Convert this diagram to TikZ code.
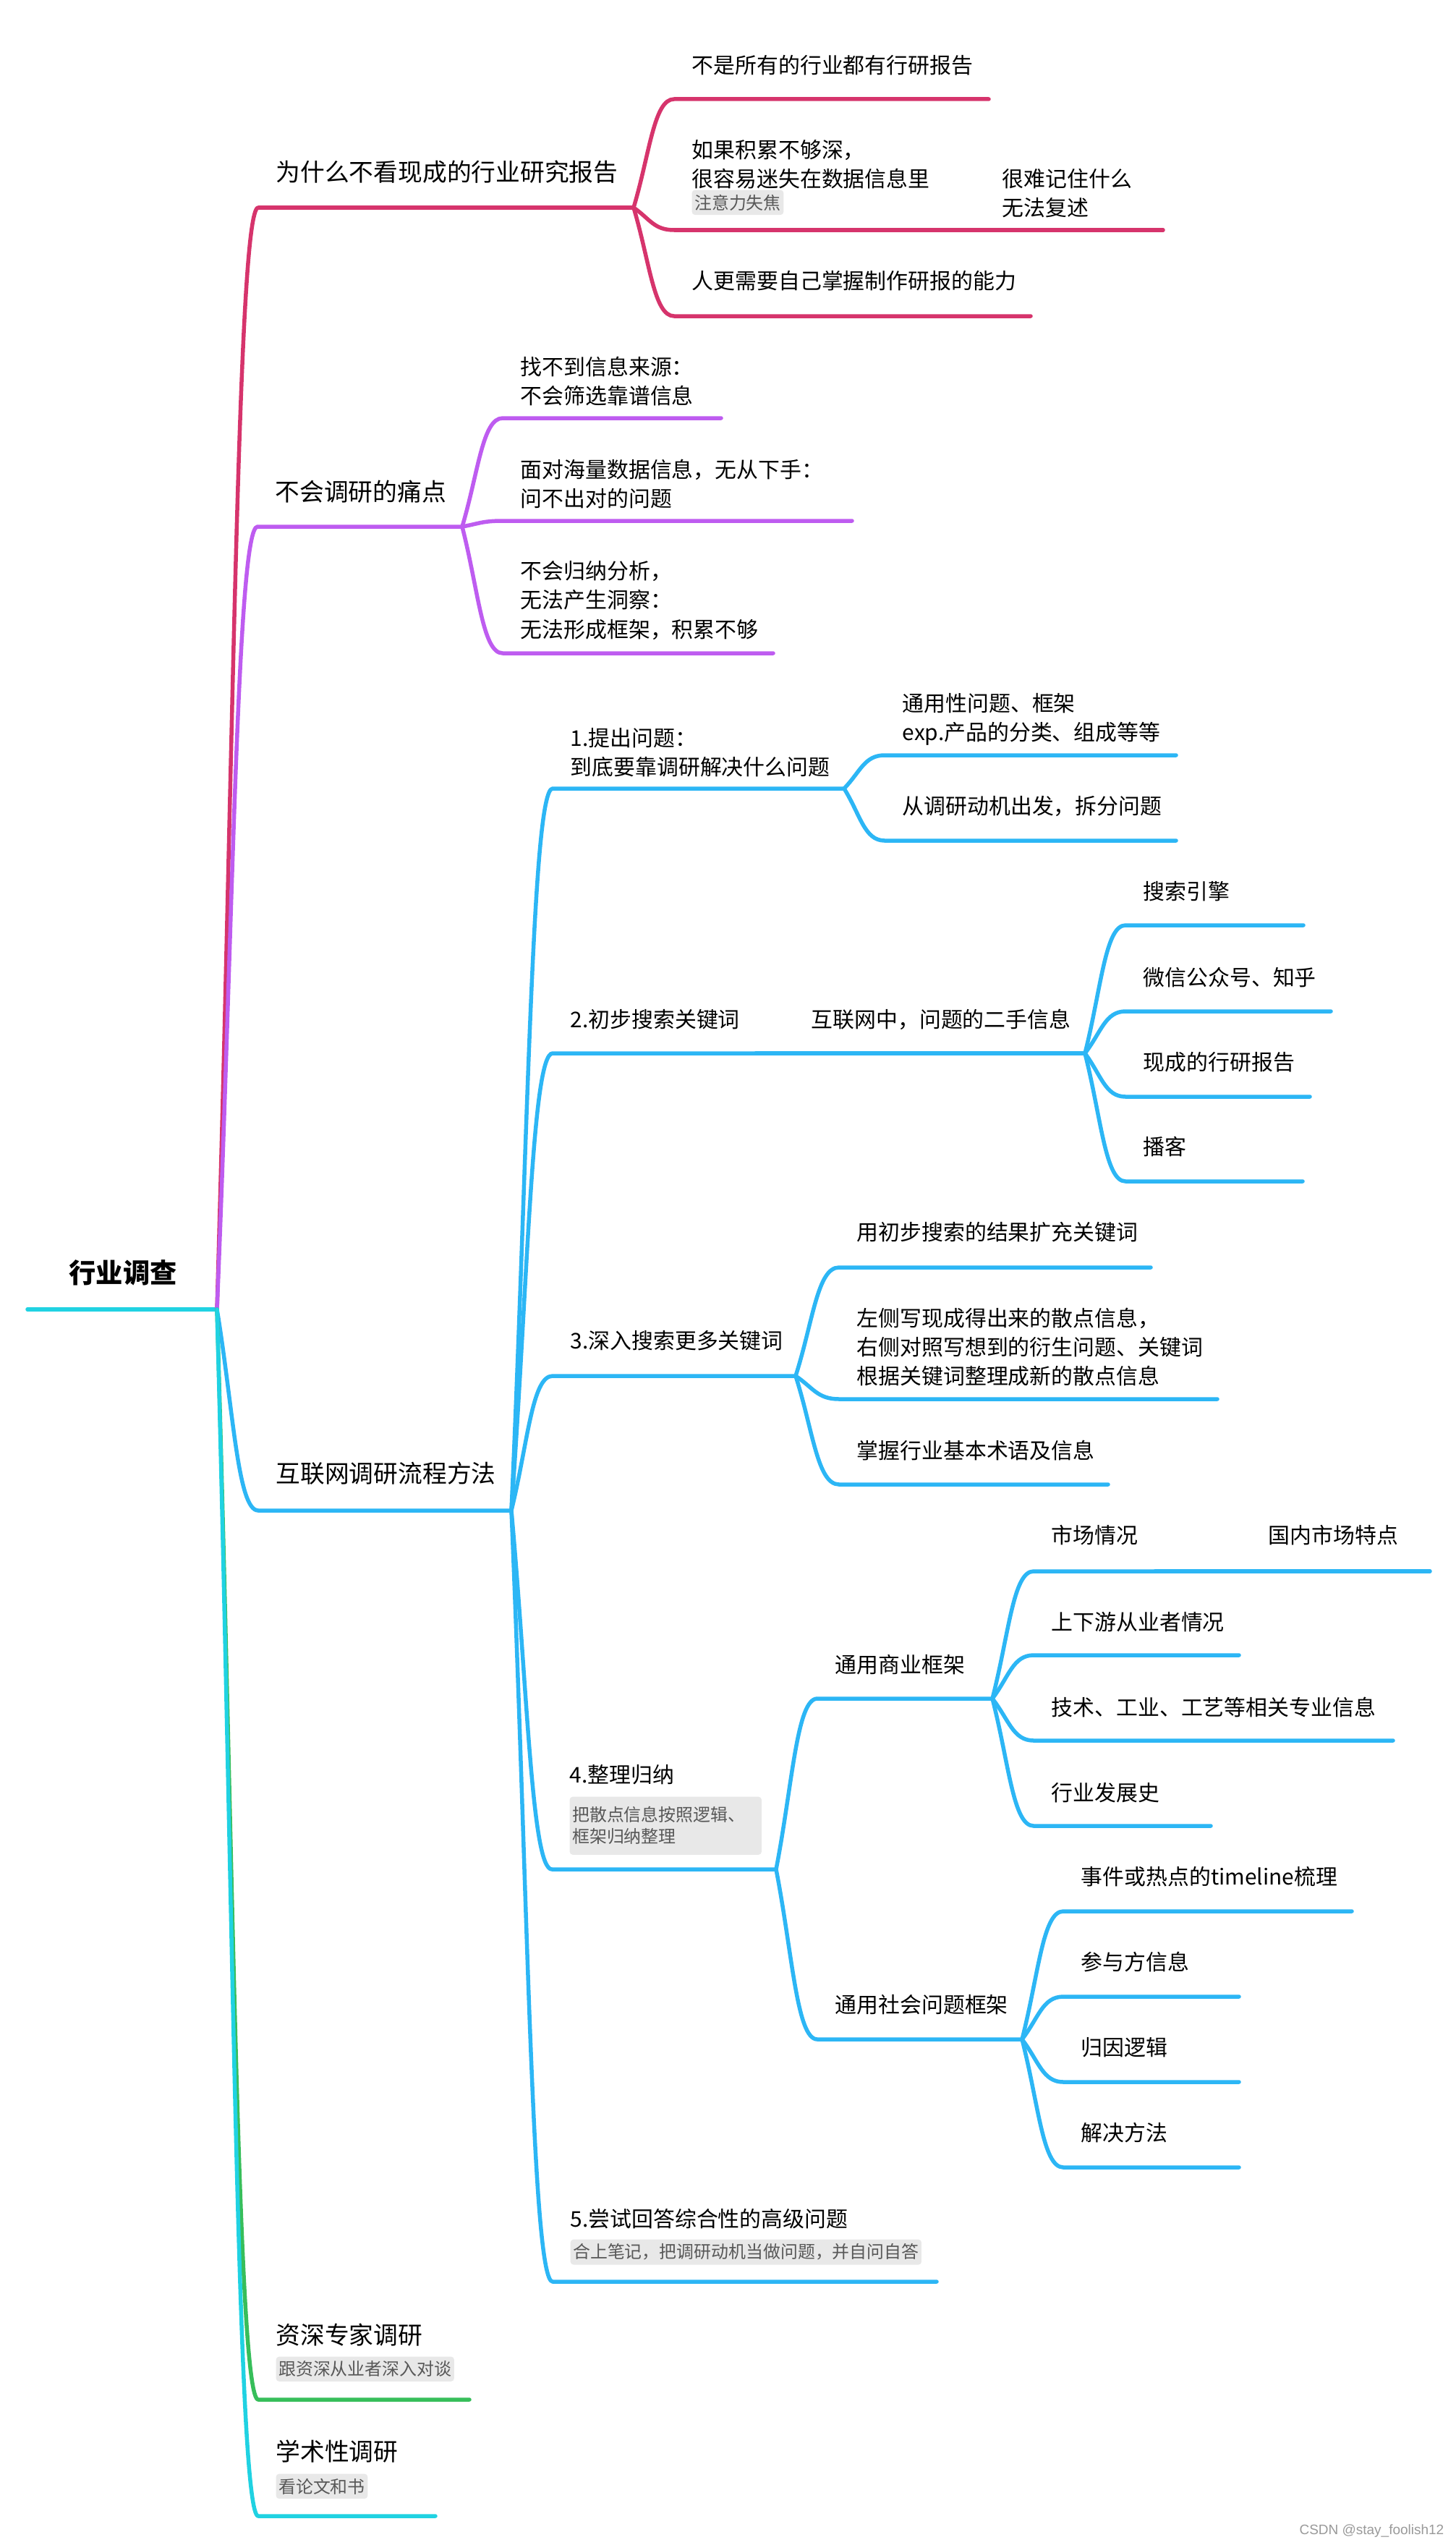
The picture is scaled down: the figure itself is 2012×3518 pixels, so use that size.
\documentclass[tikz,border=0pt]{standalone}
\usepackage{fontspec}
\setmainfont{Noto Sans CJK SC}
\newfontfamily\wmfont{Liberation Sans}
\usetikzlibrary{calc}
\definecolor{mmred}{RGB}{214,52,108}
\definecolor{mmpurple}{RGB}{190,92,240}
\definecolor{mmblue}{RGB}{44,182,245}
\definecolor{mmgreen}{RGB}{55,190,90}
\definecolor{mmcyan}{RGB}{32,210,226}
\definecolor{notegray}{RGB}{232,232,232}
\definecolor{notetext}{RGB}{88,88,88}
% topic: [style]{name}{text x}{text y}{line y}{line end}{text}
\newcommand{\topic}[7][sub]{%
  \coordinate (#2-l) at ({#3-24},#5);
  \coordinate (#2-r) at (#6,#5);
  \node[#1] (#2) at (#3,#4) {#7};}
% branch: {colour}{parent}{child}
\newcommand{\branch}[3]{%
  \draw[link,#1] let \p1=(#2-r), \p2=(#3-l) in
    (\p1) .. controls ({\x1+0.4*(\x2-\x1)},{\y1+0.5*(\y2-\y1)})
      and ({\x1+0.5*(\x2-\x1)},\y2) .. (\p2) -- (#3-r);}

\begin{document}
\begin{tikzpicture}[
    x=0.01cm, y=-0.01cm,
    link/.style={line width=0.055cm,line cap=round,line join=round},
    main/.style={anchor=west,inner sep=0,align=left,
                 font=\fontsize{9.6pt}{12.9pt}\selectfont},
    sub/.style={anchor=west,inner sep=0,align=left,
                font=\fontsize{8.5pt}{11.4pt}\selectfont},
    note/.style={anchor=north west,fill=notegray,text=notetext,
                 rounded corners=0.04cm,inner xsep=0.035cm,inner ysep=0.06cm,
                 align=left,font=\fontsize{6.8pt}{8.5pt}\selectfont},
  ]
    \useasboundingbox (0,0) rectangle (2012,3518);

    % root
    \node[font=\fontsize{10.6pt}{12pt}\selectfont\bfseries] (root) at (170,1759) {行业调查};
    \coordinate (root-l) at (38,1810);
    \coordinate (root-r) at (300,1810);
    \draw[link,mmcyan] (root-l) -- (root-r);

    % first level
    \topic[main]{why}{381}{238}{287}{876}{为什么不看现成的行业研究报告}
    \topic[main]{pain}{380}{680}{728}{639}{不会调研的痛点}
    \topic[main]{net}{381}{2037}{2088}{707}{互联网调研流程方法}
    \topic[main]{expert}{381}{3228}{3317}{649}{资深专家调研}
    \topic[main]{acad}{381}{3389}{3478}{602}{学术性调研}
    \branch{mmred}{root}{why}
    \branch{mmpurple}{root}{pain}
    \branch{mmblue}{root}{net}
    \branch{mmgreen}{root}{expert}
    \branch{mmcyan}{root}{acad}
    \node[note] (expertn) at (381,3257) {跟资深从业者深入对谈};
    \node[note] (acadn) at (381,3419) {看论文和书};

    % why
    \topic{why1}{956}{90}{137}{1367}{不是所有的行业都有行研报告}
    \topic{why2}{956}{227}{318}{1304}{如果积累不够深，\\很容易迷失在数据信息里}
    \topic{why2a}{1385}{267}{318}{1608}{很难记住什么\\无法复述}
    \topic{why3}{956}{388}{437}{1425}{人更需要自己掌握制作研报的能力}
    \node[note] (why2n) at (956,262) {注意力失焦};
    \branch{mmred}{why}{why1}
    \branch{mmred}{why}{why2}
    \branch{mmred}{why2}{why2a}
    \branch{mmred}{why}{why3}

    % pain
    \topic{pain1}{719}{527}{578}{997}{找不到信息来源：\\不会筛选靠谱信息}
    \topic{pain2}{719}{669}{720}{1178}{面对海量数据信息，无从下手：\\问不出对的问题}
    \topic{pain3}{719}{830}{903}{1069}{不会归纳分析，\\无法产生洞察：\\无法形成框架，积累不够}
    \branch{mmpurple}{pain}{pain1}
    \branch{mmpurple}{pain}{pain2}
    \branch{mmpurple}{pain}{pain3}

    % net: steps
    \topic{net1}{788}{1040}{1090}{1167}{1.提出问题：\\到底要靠调研解决什么问题}
    \topic{net2}{788}{1409}{1456}{1045}{2.初步搜索关键词}
    \topic{net3}{788}{1853}{1902}{1100}{3.深入搜索更多关键词}
    \topic{net4}{787}{2453}{2584}{1073}{4.整理归纳}
    \topic{net5}{788}{3067}{3154}{1295}{5.尝试回答综合性的高级问题}
    \node[note,text width=2.58cm,minimum height=0.8cm] (net4n) at (787,2483)
      {把散点信息按照逻辑、\\框架归纳整理};
    \node[note] (net5n) at (788,3095) {合上笔记，把调研动机当做问题，并自问自答};
    \foreach \s in {net1,net2,net3,net4,net5}
      {\branch{mmblue}{net}{\s}}

    % step 1
    \topic{net1a}{1247}{994}{1044}{1626}{通用性问题、框架\\exp.产品的分类、组成等等}
    \topic{net1b}{1247}{1114}{1162}{1626}{从调研动机出发，拆分问题}
    \branch{mmblue}{net1}{net1a}
    \branch{mmblue}{net1}{net1b}

    % step 2
    \topic{net2a}{1121}{1409}{1456}{1500}{互联网中，问题的二手信息}
    \topic{net2a1}{1580}{1232}{1279}{1802}{搜索引擎}
    \topic{net2a2}{1580}{1351}{1398}{1840}{微信公众号、知乎}
    \topic{net2a3}{1580}{1468}{1516}{1811}{现成的行研报告}
    \topic{net2a4}{1580}{1585}{1633}{1801}{播客}
    \branch{mmblue}{net2}{net2a}
    \foreach \s in {net2a1,net2a2,net2a3,net2a4}
      {\branch{mmblue}{net2a}{\s}}

    % step 3
    \topic{net3a}{1184}{1703}{1752}{1591}{用初步搜索的结果扩充关键词}
    \topic{net3b}{1184}{1862}{1934}{1683}{左侧写现成得出来的散点信息，\\右侧对照写想到的衍生问题、关键词\\根据关键词整理成新的散点信息}
    \topic{net3c}{1184}{2005}{2052}{1532}{掌握行业基本术语及信息}
    \foreach \s in {net3a,net3b,net3c}
      {\branch{mmblue}{net3}{\s}}

    % step 4
    \topic{net4a}{1154}{2301}{2348}{1372}{通用商业框架}
    \topic{net4b}{1154}{2771}{2819}{1413}{通用社会问题框架}
    \branch{mmblue}{net4}{net4a}
    \branch{mmblue}{net4}{net4b}
    \topic{net4a1}{1453}{2122}{2172}{1597}{市场情况}
    \topic{net4a1a}{1753}{2122}{2172}{1977}{国内市场特点}
    \topic{net4a2}{1453}{2242}{2288}{1713}{上下游从业者情况}
    \topic{net4a3}{1453}{2360}{2406}{1926}{技术、工业、工艺等相关专业信息}
    \topic{net4a4}{1453}{2478}{2524}{1674}{行业发展史}
    \foreach \s in {net4a1,net4a2,net4a3,net4a4}
      {\branch{mmblue}{net4a}{\s}}
    \branch{mmblue}{net4a1}{net4a1a}
    \topic{net4b1}{1494}{2594}{2642}{1869}{事件或热点的timeline梳理}
    \topic{net4b2}{1494}{2712}{2760}{1713}{参与方信息}
    \topic{net4b3}{1494}{2830}{2878}{1713}{归因逻辑}
    \topic{net4b4}{1494}{2948}{2996}{1713}{解决方法}
    \foreach \s in {net4b1,net4b2,net4b3,net4b4}
      {\branch{mmblue}{net4b}{\s}}

    % watermark
    \node[anchor=east,inner sep=0,text=black!40,font=\wmfont\fontsize{5.4pt}{6pt}\selectfont]
      (wm) at (1997,3499) {CSDN @stay\_foolish12};
  \end{tikzpicture}
\end{document}
